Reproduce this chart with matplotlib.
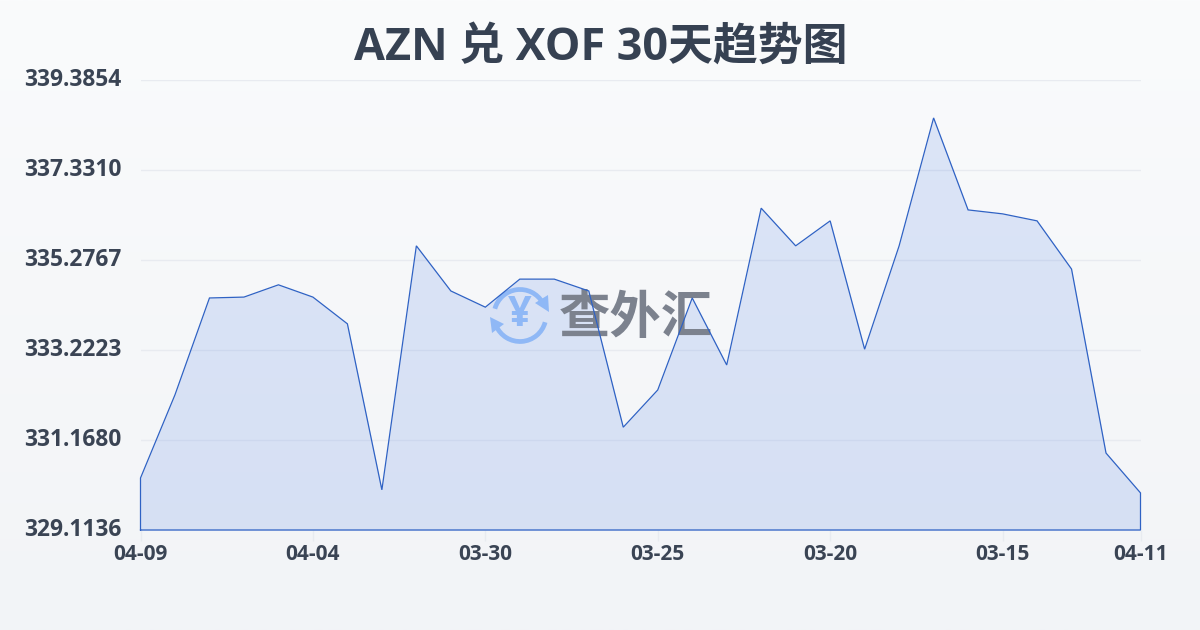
import numpy as np
import matplotlib
matplotlib.use("Agg")
import matplotlib.pyplot as plt
from matplotlib.patches import Arc, Polygon

FONT = ['Open Sans', 'Noto Sans CJK SC', 'DejaVu Sans']
plt.rcParams['font.family'] = FONT

title = "AZN 兑 XOF 30天趋势图"
values = [330.30, 332.20, 334.41, 334.43, 334.71, 334.43, 333.82, 330.03, 335.60, 334.57,
          334.20, 334.84, 334.84, 334.57, 331.46, 332.31, 334.41, 332.88, 336.46, 335.60,
          336.17, 333.24, 335.60, 338.52, 336.42, 336.33, 336.17, 335.07, 330.87, 329.96]
x_tick_pos = [0, 5, 10, 15, 20, 25, 29]
x_tick_labels = ["04-09", "04-04", "03-30", "03-25", "03-20", "03-15", "04-11"]
y_ticks = [329.1136, 331.1680, 333.2223, 335.2767, 337.3310, 339.3854]
y_labels = ["329.1136", "331.1680", "333.2223", "335.2767", "337.3310", "339.3854"]

W, H = 1200, 630
fig = plt.figure(figsize=(W / 100, H / 100), dpi=100)

# background gradient
bg = fig.add_axes([0, 0, 1, 1], zorder=0)
bg.axis("off")
c_top = np.array([250, 251, 252]) / 255
c_bot = np.array([242, 244, 247]) / 255
t = np.linspace(0, 1, 256)[:, None, None]
bg.imshow(c_top * (1 - t) + c_bot * t, aspect="auto", extent=[0, 1, 0, 1])

# pixel-coordinate helper axes used for the watermark's placement
px = fig.add_axes([0, 0, 1, 1], zorder=0.5)
px.patch.set_alpha(0)
px.axis("off")
px.set_xlim(0, W)
px.set_ylim(H, 0)

ax = fig.add_axes([140.5 / W, 1 - 530 / H, 1000 / W, 450 / H], zorder=1)
ax.patch.set_alpha(0)
xs = np.arange(len(values))
ax.set_xlim(0, len(values) - 1)
ax.set_ylim(y_ticks[0], y_ticks[-1])
ax.set_autoscale_on(False)
ax.set_yticks(y_ticks)
ax.set_yticklabels([])
ax.set_xticks(x_tick_pos, x_tick_labels)
for s in ax.spines.values():
    s.set_visible(False)
ax.grid(axis="y", color="#e8ebf0", lw=1)
ax.set_axisbelow(True)
ax.tick_params(axis="y", length=0)
ax.tick_params(axis="x", length=8, width=1, color="#e8ebf0", pad=2, labelsize=15, labelcolor="#3a4454")
for lab in ax.get_xticklabels():
    lab.set_fontweight("bold")
    lab.set_family(FONT)
for v, s in zip(y_ticks, y_labels):
    ax.annotate(s, xy=(0, v), xycoords=("axes fraction", "data"), xytext=(-13.5, 0.2),
                textcoords="offset points", ha="right", va="center", fontsize=16.4,
                fontweight="bold", color="#3a4454", family=FONT, annotation_clip=False)

ax.fill_between(xs, values, y_ticks[0], color="#4478e4", alpha=0.16, lw=0, zorder=2)
xc = [xs[0]] + list(xs) + [xs[-1], xs[0]]
yc = [y_ticks[0]] + values + [y_ticks[0], y_ticks[0]]
ax.plot(xc, yc, color="#2f62c4", lw=0.9, zorder=4, clip_on=False, solid_joinstyle="miter")

fig.text(601 / W, 1 - 48 / H, title, ha="center", va="center", fontsize=32.3,
         fontweight="bold", color="#364152")

# watermark: above the fill, beneath the line
blue = "#8fb8f6"
tr = px.transData
cx, cy, r = 520, 315.5, 26
for a, b in [(203, 345), (30, 165)]:
    ax.add_patch(Arc((cx, cy), 2 * r, 2 * r, theta1=-b, theta2=-a, color=blue, lw=3.4,
                     transform=tr, zorder=3, clip_on=False))
ax.add_patch(Polygon([[548, 295], [549, 312], [535, 303]], color=blue, lw=0, transform=tr,
                     zorder=3, clip_on=False))
ax.add_patch(Polygon([[490, 317], [504, 324], [492, 333]], color=blue, lw=0, transform=tr,
                     zorder=3, clip_on=False))
ax.text(cx, cy, "¥", ha="center", va="center", fontsize=30, fontweight="bold", color=blue,
        family=FONT, transform=tr, zorder=3)
ax.text(636, 317, "查外汇", ha="center", va="center", fontsize=37, fontweight="bold",
        color="#7c828e", family=['Noto Sans CJK SC', 'DejaVu Sans'], transform=tr, zorder=3)

fig.savefig("out.png", dpi=100)
